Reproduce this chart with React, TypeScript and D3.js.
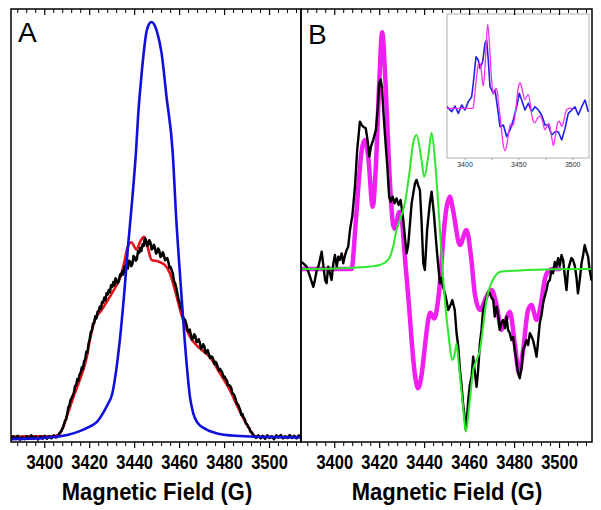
import React from 'react';
import * as d3 from 'd3';

// ---------- data ----------
const majorTicks = [3400, 3420, 3440, 3460, 3480, 3500];
const minorTicks = [3388, 3392, 3396, 3404, 3408, 3412, 3416, 3424, 3428, 3432, 3436, 3444, 3448, 3452, 3456, 3464, 3468, 3472, 3476, 3484, 3488, 3492, 3496, 3504, 3508, 3512];
const insetLabels = [3400, 3450, 3500];
const insetTicks = [3400, 3425, 3450, 3475, 3500];
const axisTitle = 'Magnetic Field (G)';

// Panel A: simulated absorption (blue), fit (red), experimental (black)
const blueA: [number, number][] = [
  [3385, 0.2], [3400, 0.5], [3410, 1.2], [3415, 2.0], [3420, 3.2], [3423, 4.2], [3426, 6.5], [3428, 8.5],
  [3430, 11.0], [3432, 17.5], [3434, 27], [3435.2, 34], [3437, 46], [3439, 58], [3440.6, 69], [3441.6, 78],
  [3443, 87], [3444.1, 93], [3445.3, 97.8], [3446.5, 99.6], [3447.5, 100], [3448.6, 99.5], [3450, 97.6],
  [3452, 92.5], [3454.2, 82], [3456.9, 69], [3458.6, 52], [3459.4, 45.5], [3460.9, 34], [3463.1, 18.4],
  [3464.6, 10.3], [3466, 6.5], [3468, 4.1], [3472, 2.5], [3476, 1.7], [3485, 1.0], [3500, 0.7], [3514, 0.6],
];

const redA: [number, number][] = [
  [3385, 0.8], [3395, 0.9], [3403, 0.9], [3406, 1.2], [3408, 2.8], [3409.8, 5.6], [3411.5, 8.3], [3413.4, 11.2],
  [3415.2, 13.8], [3417.1, 16.7], [3418.7, 19.8], [3420.1, 23.9], [3422.3, 28.7], [3425.3, 31.1], [3429, 34.3],
  [3432, 37.1], [3434.2, 39.9], [3435.5, 42.8], [3436.8, 46.0], [3438.5, 47.3], [3440.8, 45.6], [3442.6, 47.6],
  [3444.2, 48.6], [3445.2, 47.4], [3446.2, 45.3], [3447.5, 43.1], [3450.5, 42.7], [3453.4, 41.9], [3455.7, 39.9],
  [3457.9, 35.9], [3460.9, 29.9], [3464.6, 24.7], [3469, 21.9], [3473.4, 19.9], [3477.9, 16], [3482.3, 12],
  [3486.8, 6.8], [3490.5, 3.2], [3493.4, 0.9], [3500, 0.7], [3514, 0.7],
];

const blackA: [number, number][] = [
  [3385, 0.2], [3386, 0.9], [3387, 0.3], [3388, 1.0], [3389, 0.1], [3390, 0.7], [3391, 0.2], [3392, 0.9],
  [3393, 0.3], [3394, 1.1], [3395, 0.4], [3396, 0.8], [3397, 0.1], [3398, 0.9], [3399, 0.3], [3400, 1.0],
  [3401, 0.3], [3402, 0.9], [3403, 0.4], [3404, 1.1], [3405, 0.6], [3406, 0.9], [3406.5, 1.6], [3407.2, 2.0],
  [3408, 2.9], [3408.5, 3.6], [3409, 4.6], [3409.5, 4.9], [3410, 6.2], [3410.5, 7.8], [3411, 8.3], [3411.5, 9.6],
  [3412, 10.1], [3412.5, 10.7], [3413, 11.4], [3413.5, 12.9], [3414, 13.2], [3414.5, 14.6], [3415, 14.2],
  [3415.5, 15.7], [3416, 16.1], [3416.5, 17.4], [3417, 17.0], [3417.5, 18.8], [3418, 19.3], [3418.5, 21.1],
  [3419, 21.0], [3419.5, 23.0], [3420, 24.1], [3420.5, 25.8], [3421, 26.2], [3421.5, 27.9], [3422, 28.0],
  [3422.5, 29.6], [3423, 29.1], [3423.5, 30.7], [3424, 30.8], [3424.5, 31.9], [3425, 31.4], [3425.5, 33.0],
  [3426, 32.9], [3426.5, 34.1], [3427, 33.4], [3427.5, 35.1], [3428, 34.8], [3428.5, 35.9], [3429, 35.3],
  [3429.5, 37.0], [3430, 36.6], [3430.5, 37.8], [3431, 37.0], [3431.5, 38.7], [3432, 38.2], [3432.5, 37.5],
  [3433, 38.0], [3433.5, 39.6], [3434, 39.3], [3434.5, 40.4], [3435, 39.6], [3435.5, 41.5], [3436, 41.2],
  [3436.5, 42.3], [3437, 41.0], [3437.5, 42.9], [3438, 42.6], [3438.5, 41.6], [3439, 42.1], [3439.5, 44.0],
  [3440, 43.7], [3440.5, 42.9], [3441, 43.3], [3441.5, 45.2], [3442, 44.8], [3442.5, 46.0], [3443, 45.2],
  [3443.5, 46.8], [3444, 46.4], [3444.5, 48.2], [3445, 47.9], [3445.5, 46.4], [3446, 46.8], [3446.5, 47.8],
  [3447, 47.3], [3447.5, 45.6], [3448, 45.8], [3448.5, 46.7], [3449, 46.1], [3449.5, 44.6], [3450, 44.9],
  [3450.5, 45.8], [3451, 45.2], [3451.5, 43.8], [3452, 44.0], [3452.5, 44.9], [3453, 44.3], [3453.5, 43.0],
  [3454, 43.2], [3454.5, 43.5], [3455, 42.6], [3455.5, 41.2], [3456, 41.4], [3456.5, 40.6], [3457, 39.8],
  [3457.5, 38.0], [3458, 37.5], [3458.5, 36.4], [3459, 35.1], [3459.5, 33.6], [3460, 33.0], [3460.5, 31.6],
  [3461, 31.2], [3461.5, 29.4], [3462, 29.0], [3462.5, 28.6], [3463, 27.8], [3463.5, 26.3], [3464, 25.9],
  [3464.5, 26.4], [3465, 25.2], [3465.5, 24.0], [3466, 24.4], [3466.5, 25.3], [3467, 24.9], [3467.5, 23.4],
  [3468, 23.5], [3468.5, 24.1], [3469, 23.3], [3469.5, 21.9], [3470, 22.1], [3470.5, 22.9], [3471, 22.4],
  [3471.5, 20.8], [3472, 21.0], [3472.5, 21.5], [3473, 20.6], [3473.5, 19.6], [3474, 20.0], [3474.5, 19.9],
  [3475, 19.2], [3475.5, 18.2], [3476, 18.7], [3476.5, 18.3], [3477, 17.4], [3477.5, 16.6], [3478, 17.0],
  [3478.5, 16.5], [3479, 16.1], [3479.5, 15.0], [3480, 15.2], [3480.5, 14.6], [3481, 14.3], [3481.5, 13.1],
  [3482, 13.1], [3482.5, 12.9], [3483, 12.4], [3483.5, 11.2], [3484, 11.0], [3484.5, 10.5], [3485, 9.6],
  [3485.5, 8.7], [3486, 8.5], [3486.5, 7.8], [3487, 7.1], [3487.5, 6.0], [3488, 6.2], [3488.5, 5.3],
  [3489, 5.0], [3489.5, 3.9], [3490, 3.8], [3490.5, 3.1], [3491, 2.9], [3491.5, 2.0], [3492, 1.9],
  [3492.5, 1.5], [3493, 1.1], [3494, 0.5], [3495, 1.1], [3496, 0.4], [3497, 1.0], [3498, 0.3], [3499, 1.1],
  [3500, 0.5], [3501, 0.9], [3502, 0.2], [3503, 1.1], [3504, 0.6], [3505, 1.2], [3506, 0.4], [3507, 0.9],
  [3508, 0.5], [3509, 1.2], [3510, 0.5], [3511, 1.0], [3512, 0.4], [3513, 1.1], [3514, 0.6],
];

// Panel B: derivative spectra
const magentaB: [number, number][] = [
  [3383, 0], [3407.5, 0], [3409, 15.2], [3410.5, 34.7], [3412, 50], [3413.4, 54.4], [3414.9, 47.4],
  [3416.9, 26.3], [3418.3, 43.2], [3419.8, 78.4], [3421.1, 99.9], [3422.6, 78.4], [3424.2, 43.2],
  [3426, 18.5], [3426.8, 17], [3428.7, 24], [3429.8, 21], [3431.2, 5], [3433, -15], [3434.2, -30],
  [3435.6, -44], [3437.1, -50.3], [3438.6, -45], [3440.1, -32.8], [3441.5, -22], [3442.5, -18.5],
  [3444.3, -20.9], [3446, -13], [3447.3, 0], [3448.2, 12], [3449.8, 26.3], [3451.2, 30.5], [3452.6, 25],
  [3455.7, 10.1], [3458.6, 16.5], [3460.8, 3.8], [3462.3, -10.3], [3464.6, -17.3], [3467.5, -11.7],
  [3469.8, -8.9], [3472, -15.2], [3474.2, -25.7], [3476.1, -21.5], [3477.9, -18], [3480.1, -31.4],
  [3482, -44], [3483.8, -34.2], [3486, -17.3], [3487.5, -15.2], [3489.8, -21.5], [3492, -13.1],
  [3493.4, -4.6], [3494.9, -1.1], [3497, 0], [3500, 0],
];

const greenB: [number, number][] = [
  [3385, 0], [3400, 0.2], [3410, 0.6], [3416, 1.1], [3420.1, 1.7], [3423, 3.2], [3424.6, 5.2], [3426, 9.5],
  [3427.5, 16.5], [3429, 20.7], [3431.2, 27.8], [3433.4, 41.8], [3434.9, 53.2], [3436.4, 56.5], [3438.6, 46],
  [3439.8, 38.9], [3441.6, 47.4], [3443.1, 57.5], [3444.6, 46], [3446, 27.8], [3447.5, 6.8], [3448.2, -3.2],
  [3449, -13.1], [3450.5, -27.1], [3452.4, -38.4], [3453.4, -35.6], [3454.2, -31.4], [3455, -38.4],
  [3457.1, -58.1], [3458.3, -68.6], [3460.1, -55.3], [3461.6, -42.6], [3463.1, -38.4], [3464.6, -34.2],
  [3466, -24.3], [3467.5, -13.1], [3469, -7.5], [3471.2, -3.2], [3474.2, -1.1], [3480.9, -0.7],
  [3497.1, -0.1], [3514, 0],
];

const blackB: [number, number][] = [
  [3385, 3.0], [3386, 2.4], [3387.5, 1.0], [3389, -3.2], [3390.5, -7.5], [3391.2, -4.6], [3392, -0.4],
  [3392.8, 1.3], [3394.2, 7.3], [3394.9, 1.7], [3395.7, -4.6], [3396.4, -6.0], [3397.1, 1.0], [3397.9, -1.8],
  [3398.6, -4.6], [3399.4, 2.4], [3400.1, 5.9], [3400.9, 1.0], [3401.6, 5.2], [3402.3, 3.8], [3403.1, 6.6],
  [3403.8, 2.4], [3404.6, 5.9], [3405.3, 8.0], [3406, 9.4], [3406.8, 16.5], [3407.5, 20.7], [3407.8, 22.1],
  [3409.0, 34.7], [3410.0, 50.2], [3411.2, 62.2], [3412.0, 60.8], [3412.7, 60.0], [3413.8, 59.4],
  [3414.6, 54.4], [3415.4, 47.4], [3416.1, 51.6], [3417.1, 54.4], [3418.3, 58.6], [3419.2, 68.5],
  [3419.8, 78.4], [3420.4, 80.0], [3421.0, 76.9], [3421.6, 67.1], [3422.3, 57.3], [3423.4, 43.2],
  [3424.2, 30.5], [3424.9, 28.4], [3425.8, 30.5], [3426.6, 27.7], [3427.5, 29.8], [3428.4, 27.0],
  [3429.3, 29.1], [3430.5, 20.7], [3431.2, 13.6], [3432.0, 6.6], [3432.7, 10.1], [3434.2, 27.7],
  [3435.7, 36.2], [3436.4, 37.6], [3437.1, 35.4], [3437.9, 33.3], [3438.6, 20.7], [3439.4, 2.4],
  [3440.1, -0.4], [3441.1, 16.5], [3442.3, 27.7], [3443.1, 32.6], [3444.1, 23.5], [3445.3, 9.4],
  [3446.0, 1.7], [3446.8, -6.0], [3447.5, -3.8], [3448.2, -7.5], [3449.2, -11.0], [3450.5, -17.3],
  [3451.2, -15.9], [3452.3, -13.1], [3453.4, -17.3], [3454.2, -27.1], [3454.9, -32.1], [3455.7, -42.6],
  [3456.4, -48.9], [3457.1, -56.7], [3457.9, -63.7], [3458.3, -67.9], [3458.8, -62.9], [3459.4, -55.3],
  [3460.1, -48.9], [3460.9, -45.4], [3461.6, -37.0], [3462.3, -43.5], [3463.1, -49.7], [3463.8, -42.6],
  [3464.6, -31.2], [3465.3, -25.7], [3466.0, -17.3], [3466.8, -14.5], [3467.5, -12.2], [3468.2, -9.6],
  [3469.0, -10.3], [3469.8, -12.2], [3470.5, -13.1], [3471.2, -20.1], [3472.0, -15.9], [3472.7, -19.4],
  [3473.4, -25.7], [3474.2, -22.4], [3474.9, -21.5], [3475.7, -24.9], [3476.4, -20.1], [3477.1, -25.7],
  [3477.9, -27.1], [3478.6, -30.0], [3479.4, -28.7], [3480.1, -34.2], [3480.9, -39.2], [3481.6, -44.0],
  [3482.3, -46.1], [3483.1, -41.8], [3483.8, -34.2], [3484.6, -32.1], [3485.3, -30.0], [3486.0, -32.1],
  [3486.8, -27.1], [3487.5, -28.3], [3488.2, -30.0], [3489.0, -33.3], [3489.8, -37.0], [3490.5, -30.0],
  [3491.2, -22.9], [3492.0, -19.4], [3492.7, -14.5], [3493.4, -11.7], [3494.2, -8.9], [3494.9, -5.5],
  [3495.7, -4.6], [3496.4, -0.4], [3497.1, -1.8], [3497.9, 3.0], [3498.6, 1.0], [3499.4, 4.6],
  [3500.1, 1.3], [3500.9, 5.9], [3501.6, 3.8], [3502.3, -2.5], [3503.1, -8.9], [3503.8, -0.4],
  [3504.6, 2.4], [3505.3, 4.6], [3506.0, 3.8], [3506.8, 1.3], [3507.5, -3.2], [3508.2, -10.3],
  [3509.0, -4.6], [3509.8, 2.4], [3510.5, 5.9], [3511.2, 10.1], [3512.0, 7.2], [3512.7, 5.2],
  [3513.4, -0.4], [3514.2, -4.6],
];

const insetBlue: [number, number][] = [
  [3383.0, 1.9], [3385.5, -1.0], [3387.7, -4.0], [3390.7, 2.7], [3393.8, -6.0], [3396.9, 3.9], [3400, -2],
  [3403.1, 7.9], [3406.2, 13.8], [3407.7, 29.8], [3410.2, 61.4], [3412.3, 57.5], [3413.9, 47.6],
  [3416.4, 55.5], [3418.6, 77.4], [3420.1, 81.3], [3421.6, 57.5], [3423.2, 25.7], [3426.3, 17.9],
  [3427.9, 21.8], [3430.9, -6.0], [3432.5, -21.9], [3435.6, -19.9], [3438.7, -33.8], [3441.8, -25.8],
  [3444.8, -13.9], [3448.0, 1.9], [3450.4, 17.9], [3452.6, 9.9], [3455.7, -2.0], [3458.8, 6.0],
  [3461.9, -4.0], [3465.0, 1.9], [3468.1, -2.0], [3471.2, -8.0], [3474.3, -19.9], [3477.3, -19.9],
  [3480.5, -31.8], [3483.6, -27.9], [3486.6, -27.9], [3489.8, -37.7], [3492.9, -23.8], [3495.9, -6.0],
  [3499.1, -2.0], [3502.1, 1.9], [3505.2, -8.0], [3508.4, 1.9], [3511.4, 9.9], [3514.5, -4.0],
];

// ---------- layout ----------
const FONT = 'Liberation Sans, Arial, Helvetica, sans-serif';
const TOP = 9;
const BOTTOM = 442;
const panels = [
  { key: 'A', left: 11, right: 301 },
  { key: 'B', left: 301, right: 592 },
];

export default function App() {
  const xA = d3.scaleLinear().domain([3385, 3514]).range([11, 301]);
  const xB = d3.scaleLinear().domain([3385, 3514]).range([301, 591]);
  const yA = d3.scaleLinear().domain([0, 100]).range([440, 22]);
  const yB = d3.scaleLinear().domain([-100, 100]).range([506, 32]);
  const xI = d3.scaleLinear().domain([3400, 3500]).range([465, 572.7]);
  const yI = d3.scaleLinear().domain([-100, 100]).range([192.3, 24.3]);
  const inset = { left: 447, right: 589, top: 14, bottom: 158 };

  const mk = (x: any, y: any, curve: any) =>
    d3.line<[number, number]>().x((d) => x(d[0])).y((d) => y(d[1])).curve(curve);

  const smoothA = mk(xA, yA, d3.curveMonotoneX);
  const rawA = mk(xA, yA, d3.curveLinear);
  const smoothB = mk(xB, yB, d3.curveMonotoneX);
  const rawB = mk(xB, yB, d3.curveLinear);
  const smoothI = mk(xI, yI, d3.curveMonotoneX);
  const rawI = mk(xI, yI, d3.curveLinear);

  const scales = [xA, xB];
  const LABEL_Y = 462;
  const TITLE_Y = 492;

  return (
    <svg
      width={601}
      height={510}
      style={{ position: 'absolute', left: 0, top: 0, background: '#fff' }}
      fontFamily={FONT}
    >
      <defs>
        <clipPath id="clipA">
          <rect x={11} y={TOP} width={290} height={BOTTOM - TOP} />
        </clipPath>
        <clipPath id="clipB">
          <rect x={301} y={TOP} width={291} height={BOTTOM - TOP} />
        </clipPath>
        <clipPath id="clipI">
          <rect x={inset.left} y={inset.top} width={inset.right - inset.left} height={inset.bottom - inset.top} />
        </clipPath>
      </defs>

      {/* Panel A curves */}
      <g clipPath="url(#clipA)" fill="none" strokeLinejoin="round" strokeLinecap="round">
        <path d={smoothA(redA) || ''} stroke="#e8121c" strokeWidth={2.6} />
        <path d={rawA(blackA) || ''} stroke="#000" strokeWidth={2.5} />
        <path d={smoothA(blueA) || ''} stroke="#1010dd" strokeWidth={2.6} />
      </g>

      {/* Panel B curves */}
      <g clipPath="url(#clipB)" fill="none" strokeLinejoin="round" strokeLinecap="round">
        <path d={smoothB(magentaB) || ''} stroke="#f01ef0" strokeWidth={4.5} />
        <path d={rawB(blackB) || ''} stroke="#000" strokeWidth={2.4} />
        <path d={smoothB(greenB) || ''} stroke="#2ee82e" strokeWidth={2} />
      </g>

      {/* Inset */}
      <rect
        x={inset.left}
        y={inset.top}
        width={inset.right - inset.left}
        height={inset.bottom - inset.top}
        fill="#fff"
        stroke="#b0b0b0"
        strokeWidth={1}
      />
      <g clipPath="url(#clipI)" fill="none" strokeLinejoin="round">
        <path d={rawI(insetBlue) || ''} stroke="#2020e6" strokeWidth={1.6} />
        <path d={smoothI(magentaB) || ''} stroke="#f030f0" strokeWidth={1.3} />
      </g>
      {insetTicks.map((t) => (
        <line key={'it' + t} x1={xI(t)} x2={xI(t)} y1={inset.bottom} y2={inset.bottom + 2} stroke="#999" strokeWidth={0.8} />
      ))}
      {insetLabels.map((t) => (
        <text key={'il' + t} x={xI(t)} y={167} fontSize={7} textAnchor="middle" fill="#333">
          {t}
        </text>
      ))}

      {/* Frames, ticks, labels */}
      {panels.map((p, i) => {
        const x = scales[i];
        return (
          <g key={p.key}>
            <rect x={p.left} y={TOP} width={p.right - p.left} height={BOTTOM - TOP} fill="none" stroke="#000" strokeWidth={1.5} />
            {majorTicks.map((t) => (
              <g key={'M' + t}>
                <line x1={x(t)} x2={x(t)} y1={TOP} y2={TOP + 6} stroke="#000" strokeWidth={1.2} />
                <line x1={x(t)} x2={x(t)} y1={BOTTOM} y2={BOTTOM + 6} stroke="#000" strokeWidth={1.2} />
                <text
                  transform={`translate(${x(t)},${LABEL_Y}) scale(1,1.22)`}
                  fontSize={16.5}
                  fontWeight="bold"
                  textAnchor="middle"
                  dominantBaseline="central"
                  fill="#000"
                >
                  {t}
                </text>
              </g>
            ))}
            {minorTicks.map((t) => (
              <g key={'m' + t}>
                <line x1={x(t)} x2={x(t)} y1={TOP} y2={TOP + 4} stroke="#000" strokeWidth={1} />
                <line x1={x(t)} x2={x(t)} y1={BOTTOM} y2={BOTTOM + 4} stroke="#000" strokeWidth={1} />
              </g>
            ))}
            <text
              transform={`translate(${(x(3385) + x(3514)) / 2 + 1},${TITLE_Y}) scale(1,1.12)`}
              fontSize={22}
              fontWeight="bold"
              textAnchor="middle"
              dominantBaseline="central"
              fill="#000"
            >
              {axisTitle}
            </text>
            <text x={p.left + 7} y={i === 0 ? 42 : 44} fontSize={28} fill="#000">
              {p.key}
            </text>
          </g>
        );
      })}
    </svg>
  );
}
